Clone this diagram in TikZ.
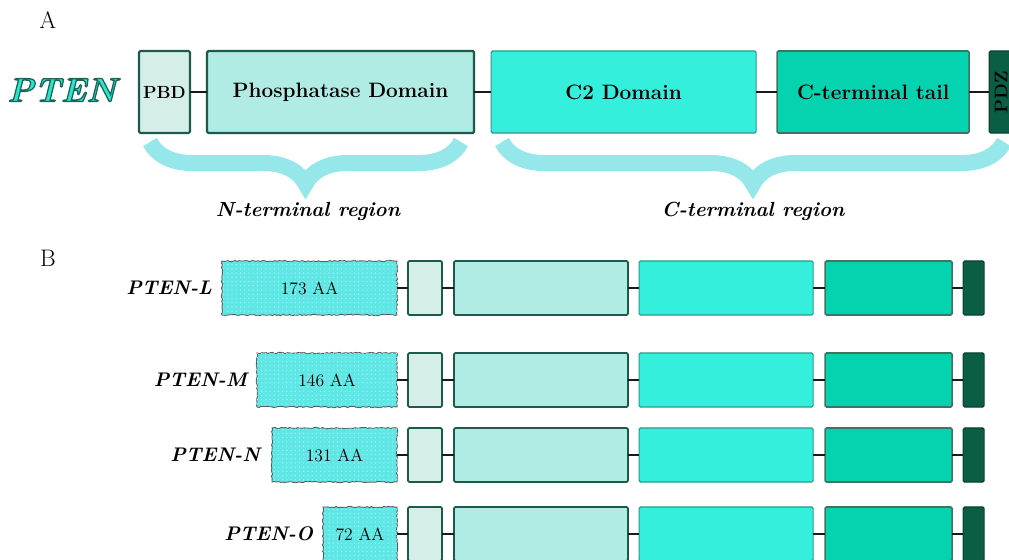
\documentclass[tikz,border=0pt]{standalone}
\usepackage{tikz}
\usetikzlibrary{positioning,decorations.pathreplacing,decorations.pathmorphing,patterns}

\definecolor{pbdc}{HTML}{D5EEE9}
\definecolor{phosc}{HTML}{B0ECE4}
\definecolor{ctwoc}{HTML}{33EFDC}
\definecolor{tailc}{HTML}{05D3AF}
\definecolor{pdzc}{HTML}{0B5E46}
\definecolor{edgec}{HTML}{1C5B49}
\definecolor{ctwoedge}{HTML}{2B9C88}
\definecolor{bracec}{HTML}{8AE4E8}
\definecolor{extc}{HTML}{5EE7E5}
\definecolor{titlec}{HTML}{2EE3CE}

\begin{document}
\begin{tikzpicture}[
  x=0.025cm, y=-0.025cm,
  every node/.style={font=\fontsize{14.8}{17}\selectfont\bfseries, inner sep=0pt, outer sep=0pt},
  bigrow/.style  ={line width=1.6pt, minimum height=2.05cm, rounded corners=1pt},
  smallrow/.style={line width=1.2pt, minimum height=1.35cm, rounded corners=1pt},
  pbdbox/.style  ={draw=edgec, fill=pbdc},
  phosbox/.style ={draw=edgec, fill=phosc},
  ctwobox/.style ={draw=ctwoedge, fill=ctwoc, line width=0.8pt},
  tailbox/.style ={draw=edgec!85, fill=tailc, line width=1.1pt},
  pdzbox/.style  ={draw=pdzc!70!black, fill=pdzc, line width=0.8pt},
  pbdS/.style    ={smallrow, pbdbox,  minimum width=0.85cm},
  phosS/.style   ={smallrow, phosbox, minimum width=4.35cm},
  ctwoS/.style   ={smallrow, ctwobox, minimum width=4.35cm},
  tailS/.style   ={smallrow, tailbox, minimum width=3.175cm},
  pdzS/.style    ={smallrow, pdzbox,  minimum width=0.525cm},
  ext/.style     ={draw=black!65, line width=0.6pt, fill=extc, minimum height=1.35cm,
                   decorate, decoration={random steps, segment length=1.5pt, amplitude=0.5pt},
                   postaction={pattern=dots, pattern color=white!45!extc},
                   font=\fontsize{12.5}{14}\selectfont, text=black, anchor=east},
  iso/.style     ={font=\fontsize{14}{16}\selectfont\bfseries\itshape},
  region/.style  ={font=\fontsize{14.5}{17}\selectfont\bfseries\itshape},
  panel/.style   ={font=\fontsize{17}{19}\selectfont},
  link/.style    ={draw=black!90, line width=1.5pt},
  brace/.style   ={draw=bracec, draw opacity=0.9, line width=0.4cm,
                   decorate, decoration={brace, mirror, amplitude=1.05cm}}
]
\clip (0,0) rectangle (1009,560);

% Panel A: full-length protein
\node[panel] (lblA) at (48,20) {A};

\node[bigrow, pbdbox, minimum width=1.275cm] (pbdA) at (164.5,92)
     {\fontsize{12.5}{14}\selectfont PBD};
\node[bigrow, phosbox, minimum width=6.675cm, right=0.425cm of pbdA] (phosA)
     {Phosphatase Domain};
\node[bigrow, ctwobox, minimum width=6.625cm, right=0.425cm of phosA] (ctwoA)
     {C2 Domain};
\node[bigrow, tailbox, minimum width=4.8cm, right=0.525cm of ctwoA] (tailA)
     {C-terminal tail};
\node[bigrow, pdzbox, minimum width=0.6cm, right=0.5cm of tailA] (pdzA)
     {\fontsize{13}{15}\selectfont\rotatebox{90}{PDZ}};

\draw[link] (pbdA)  -- (phosA);
\draw[link] (phosA) -- (ctwoA);
\draw[link] (ctwoA) -- (tailA);
\draw[link] (tailA) -- (pdzA);

% Braces
\coordinate (nL) at (150,142);
\coordinate (nR) at (461,142);
\coordinate (cL) at (502,142);
\coordinate (cR) at (1004,142);
\draw[brace] (nL) -- (nR);
\draw[brace] (cL) -- (cR);
\node[region] (nreg) at (308,211) {N-terminal region};
\node[region] (creg) at (753,211) {C-terminal region};

% Panel B: extended isoforms
\node[panel] (lblB) at (48,258) {B};

% PTEN-L
\node[ext, minimum width=4.375cm] (extL) at (397,288) {173 AA};
\node[pbdS,  right=0.275cm of extL]  (pbdL)  {};
\node[phosS, right=0.3cm of pbdL]    (phosL) {};
\node[ctwoS, right=0.275cm of phosL] (ctwoL) {};
\node[tailS, right=0.3cm of ctwoL]   (tailL) {};
\node[pdzS,  right=0.275cm of tailL] (pdzL)  {};
\node[iso, left=0.25cm of extL] (isoL) {PTEN-L};
\draw[link] (extL) -- (pbdL);
\draw[link] (pbdL) -- (phosL);
\draw[link] (phosL) -- (ctwoL);
\draw[link] (ctwoL) -- (tailL);
\draw[link] (tailL) -- (pdzL);

% PTEN-M
\node[ext, minimum width=3.5cm] (extM) at (397,380) {146 AA};
\node[pbdS,  right=0.275cm of extM]  (pbdM)  {};
\node[phosS, right=0.3cm of pbdM]    (phosM) {};
\node[ctwoS, right=0.275cm of phosM] (ctwoM) {};
\node[tailS, right=0.3cm of ctwoM]   (tailM) {};
\node[pdzS,  right=0.275cm of tailM] (pdzM)  {};
\node[iso, left=0.25cm of extM] (isoM) {PTEN-M};
\draw[link] (extM) -- (pbdM);
\draw[link] (pbdM) -- (phosM);
\draw[link] (phosM) -- (ctwoM);
\draw[link] (ctwoM) -- (tailM);
\draw[link] (tailM) -- (pdzM);

% PTEN-N
\node[ext, minimum width=3.125cm] (extN) at (397,455) {131 AA};
\node[pbdS,  right=0.275cm of extN]  (pbdN)  {};
\node[phosS, right=0.3cm of pbdN]    (phosN) {};
\node[ctwoS, right=0.275cm of phosN] (ctwoN) {};
\node[tailS, right=0.3cm of ctwoN]   (tailN) {};
\node[pdzS,  right=0.275cm of tailN] (pdzN)  {};
\node[iso, left=0.3cm of extN] (isoN) {PTEN-N};
\draw[link] (extN) -- (pbdN);
\draw[link] (pbdN) -- (phosN);
\draw[link] (phosN) -- (ctwoN);
\draw[link] (ctwoN) -- (tailN);
\draw[link] (tailN) -- (pdzN);

% PTEN-O
\node[ext, minimum width=1.85cm] (extO) at (397,534) {72 AA};
\node[pbdS,  right=0.275cm of extO]  (pbdO)  {};
\node[phosS, right=0.3cm of pbdO]    (phosO) {};
\node[ctwoS, right=0.275cm of phosO] (ctwoO) {};
\node[tailS, right=0.3cm of ctwoO]   (tailO) {};
\node[pdzS,  right=0.275cm of tailO] (pdzO)  {};
\node[iso, left=0.25cm of extO] (isoO) {PTEN-O};
\draw[link] (extO) -- (pbdO);
\draw[link] (pbdO) -- (phosO);
\draw[link] (phosO) -- (ctwoO);
\draw[link] (ctwoO) -- (tailO);
\draw[link] (tailO) -- (pdzO);

% outlined title, drawn last
\node[font=\fontsize{24}{28}\selectfont\bfseries\itshape, text=titlec] (title) at (62,90)
     {\special{pdf:literal direct 0.10 0.40 0.35 RG 0.9 w 2 Tr}PTEN\special{pdf:literal direct 0 Tr}};
\end{tikzpicture}
\end{document}
